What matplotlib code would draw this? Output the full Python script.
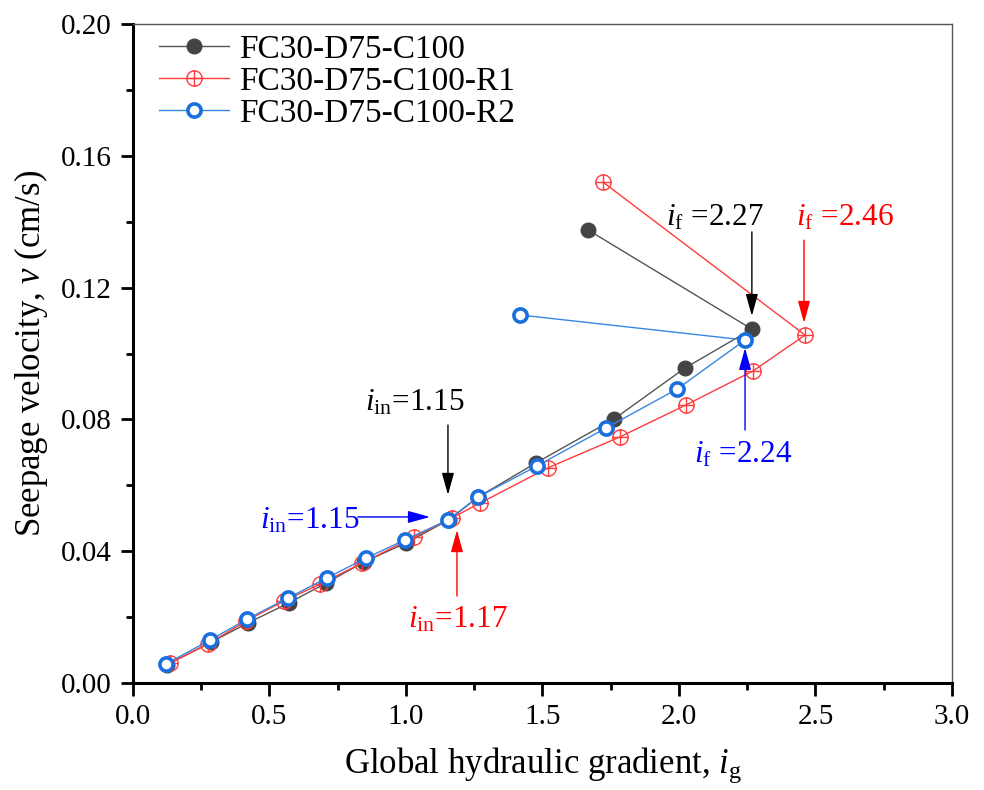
import matplotlib
matplotlib.use("Agg")
import matplotlib.pyplot as plt
from matplotlib.path import Path
from matplotlib.ticker import MultipleLocator, FormatStrFormatter

plt.rcParams['font.family'] = ['Liberation Serif', 'DejaVu Serif']
plt.rcParams['mathtext.fontset'] = 'custom'
plt.rcParams['mathtext.rm'] = 'Liberation Serif'
plt.rcParams['mathtext.it'] = 'Liberation Serif:italic'

# data
ig_c100 = [0.125, 0.286, 0.421, 0.571, 0.707, 0.846, 1.000, 1.157, 1.264, 1.476, 1.762, 2.022, 2.267, 1.667]
v_c100 = [0.0055, 0.0124, 0.0182, 0.0243, 0.0303, 0.0367, 0.0425, 0.0495, 0.0564, 0.0668, 0.0801, 0.0956, 0.1074, 0.1375]

ig_r1 = [0.136, 0.275, 0.414, 0.553, 0.685, 0.839, 1.029, 1.168, 1.271, 1.520, 1.784, 2.026, 2.271, 2.462, 1.722]
v_r1 = [0.0061, 0.0118, 0.0188, 0.0249, 0.0300, 0.0364, 0.0443, 0.0501, 0.0546, 0.0653, 0.0747, 0.0844, 0.0947, 0.1056, 0.1520]

ig_r2 = [0.121, 0.282, 0.418, 0.568, 0.711, 0.853, 0.996, 1.154, 1.264, 1.480, 1.733, 1.993, 2.242, 1.418]
v_r2 = [0.0058, 0.0130, 0.0194, 0.0258, 0.0319, 0.0379, 0.0434, 0.0495, 0.0564, 0.0659, 0.0774, 0.0892, 0.1041, 0.1117]

labels = ["FC30-D75-C100", "FC30-D75-C100-R1", "FC30-D75-C100-R2"]

# circle with a cross inside
circ = Path.unit_circle()
cross = Path([(-1, 0), (1, 0), (0, -1), (0, 1)],
             [Path.MOVETO, Path.LINETO, Path.MOVETO, Path.LINETO])
oplus = Path.make_compound_path(circ, cross)

fig = plt.figure(figsize=(9.84, 7.9), dpi=100)
ax = fig.add_axes([0.135, 0.1354, 0.8325, 0.8342])

ax.plot(ig_c100, v_c100, '-o', color='#555555', lw=1.0, ms=10.5,
        mfc='#444444', mec='#444444', label=labels[0], zorder=3)
ax.plot(ig_r1, v_r1, '-', color='#ff3b3b', lw=1.0, marker=oplus, ms=11,
        mfc='none', mec='#ff3b3b', mew=1.0, label=labels[1], zorder=4)
ax.plot(ig_r2, v_r2, '-o', color='#3a86e0', lw=1.0, ms=9.5,
        mfc='white', mec='#1a6fdf', mew=2.6, label=labels[2], zorder=5)

ax.set_xlim(0, 3.0)
ax.set_ylim(0, 0.20)
ax.xaxis.set_major_locator(MultipleLocator(0.5))
ax.xaxis.set_minor_locator(MultipleLocator(0.25))
ax.yaxis.set_major_locator(MultipleLocator(0.04))
ax.yaxis.set_minor_locator(MultipleLocator(0.02))
ax.xaxis.set_major_formatter(FormatStrFormatter('%.1f'))
ax.yaxis.set_major_formatter(FormatStrFormatter('%.2f'))
ax.tick_params(which='major', direction='out', length=9, width=2, labelsize=21, pad=6)
ax.tick_params(which='minor', direction='out', length=5, width=2)

for s in ['left', 'bottom']:
    ax.spines[s].set_linewidth(2.2)
for s in ['top', 'right']:
    ax.spines[s].set_linewidth(1.0)
    ax.spines[s].set_color('#555555')

ax.set_xlabel(r'Global hydraulic gradient, $i_{\mathrm{g}}$', fontsize=25, labelpad=11)
ax.set_ylabel(r'Seepage velocity, $v$ (cm/s)', fontsize=25, labelpad=8)

leg = ax.legend(loc='upper left', frameon=False, fontsize=24, handlelength=2.1,
                borderaxespad=0.0, borderpad=0.3, labelspacing=0.05,
                handletextpad=0.3, bbox_to_anchor=(0.02, 1.0))

def note(txt, xy, xytext, color, tx):
    ax.annotate('', xy=xy, xytext=xytext,
                arrowprops=dict(arrowstyle='-|>,head_length=0.9,head_width=0.25',
                                color=color, lw=1.0, mutation_scale=15,
                                shrinkA=0, shrinkB=0), zorder=6)
    ax.text(tx[0], tx[1], txt, color=color, fontsize=22.5, ha='center', va='center')

note(r'$i_{\mathrm{in}}$=1.15', (1.154, 0.0571), (1.154, 0.0783), 'black', tx=(1.033, 0.0850))
note(r'$i_{\mathrm{in}}$=1.15', (1.088, 0.0504), (0.824, 0.0504), 'blue', tx=(0.648, 0.0492))
note(r'$i_{\mathrm{in}}$=1.17', (1.187, 0.0464), (1.187, 0.0264), 'red', tx=(1.190, 0.0191))
note(r'$i_{\mathrm{f}}$ =2.27', (2.267, 0.1114), (2.267, 0.1369), 'black', tx=(2.132, 0.1411))
note(r'$i_{\mathrm{f}}$ =2.46', (2.458, 0.1093), (2.458, 0.1344), 'red', tx=(2.608, 0.1411))
note(r'$i_{\mathrm{f}}$ =2.24', (2.242, 0.1017), (2.242, 0.0768), 'blue', tx=(2.234, 0.0692))

fig.savefig('out.png', dpi=100)
